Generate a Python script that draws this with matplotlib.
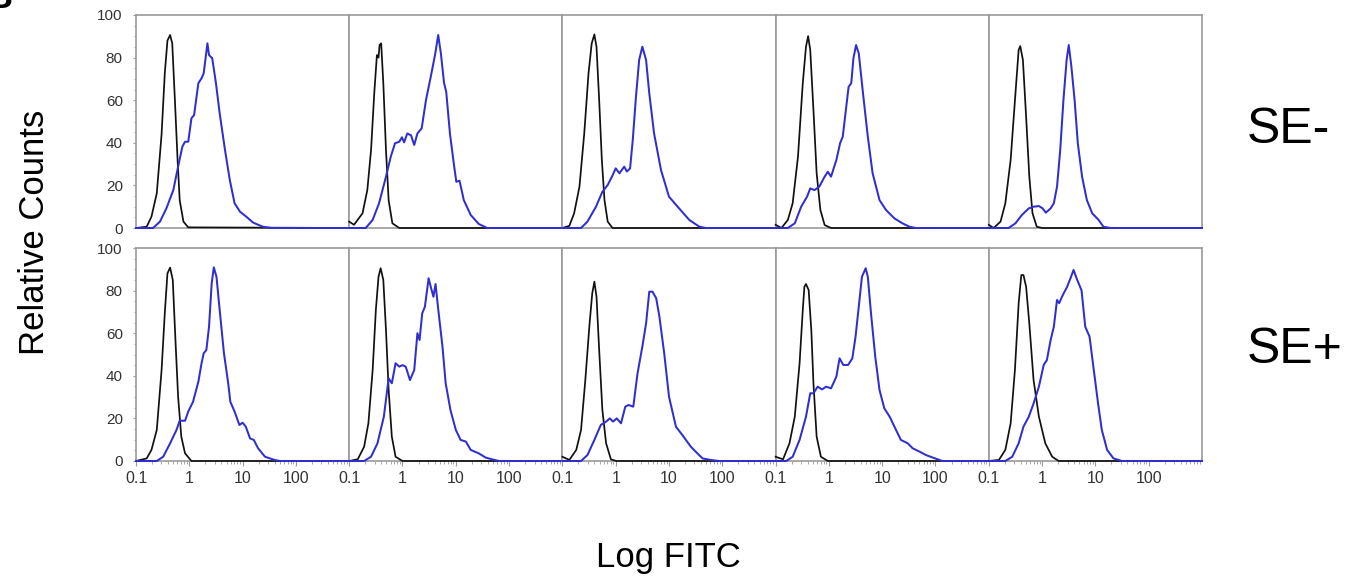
#!/usr/bin/env python3
"""Flow cytometry overlays: isotype control (black) vs FITC stain (blue),
five samples per row, SE- on top and SE+ below. x values are stored in
decades (log10 FITC), y values are relative counts."""

import matplotlib
matplotlib.use("Agg")
import matplotlib.pyplot as plt
import numpy as np
from matplotlib.ticker import FixedLocator, FixedFormatter, MultipleLocator, NullFormatter

plt.rcParams["font.family"] = ["Liberation Sans", "DejaVu Sans"]

ROW_LABELS = ["SE-", "SE+"]
X_TICKS = [0.1, 1, 10, 100]
X_TICK_LABELS = ["0.1", "1", "10", "100"]
Y_TICKS = [0, 20, 40, 60, 80, 100]

# SE- row, control (black)
SE_MINUS_CTRL_X = [
    [-1, -0.80, -0.71, -0.61, -0.52, -0.46, -0.41, -0.36, -0.32, -0.27, -0.22, -0.18, -0.11, -0.02, 3],
    [-1, -0.91, -0.75, -0.66, -0.59, -0.53, -0.48, -0.45, -0.43, -0.40, -0.36, -0.31, -0.26, -0.19, -0.06, 3],
    [-1, -0.87, -0.78, -0.68, -0.59, -0.51, -0.45, -0.40, -0.36, -0.31, -0.26, -0.21, -0.15, -0.06, 3],
    [-1, -0.89, -0.77, -0.68, -0.58, -0.49, -0.43, -0.39, -0.35, -0.29, -0.23, -0.16, -0.08, 0.04, 3],
    [-1, -0.91, -0.78, -0.69, -0.59, -0.50, -0.44, -0.41, -0.36, -0.30, -0.24, -0.18, -0.10, 0.00, 3],
]
SE_MINUS_CTRL_Y = [
    [0, 0.6, 5.3, 16.3, 44, 72.6, 88, 90.6, 86.7, 60, 32, 13, 3, 0.3, 0],
    [3, 1.5, 6.9, 17.8, 36.6, 63.2, 81.2, 80, 85.9, 86.7, 68, 36.6, 13, 2.2, 0, 0],
    [0, 1, 6.9, 19.4, 44.4, 72.6, 86.7, 90.9, 85, 60, 32, 13, 3, 0, 0],
    [1.5, 0, 3.8, 11.6, 33.5, 68, 85.1, 90.1, 83.6, 55.4, 25.7, 8.5, 1.4, 0, 0],
    [1.5, 0, 3, 11.6, 32, 63.2, 83.6, 85.4, 78.9, 52.3, 24.1, 6.9, 0.6, 0, 0],
]

# SE- row, FITC (blue)
SE_MINUS_FITC_X = [
    [-1, -0.68, -0.55, -0.43, -0.30, -0.21, -0.13, -0.08, -0.02, 0.04, 0.09, 0.17, 0.23, 0.27,
     0.34, 0.37, 0.43, 0.50, 0.57, 0.67, 0.76, 0.85, 0.95, 1.07, 1.20, 1.38, 1.54, 3],
    [-1, -0.69, -0.56, -0.44, -0.31, -0.22, -0.14, -0.06, -0.01, 0.03, 0.09, 0.16, 0.22, 0.28,
     0.36, 0.44, 0.53, 0.61, 0.67, 0.72, 0.78, 0.82, 0.89, 0.97, 1.01, 1.07, 1.15, 1.28, 1.43, 1.59, 3],
    [-1, -0.65, -0.53, -0.37, -0.25, -0.15, -0.07, 0.00, 0.07, 0.16, 0.21, 0.27, 0.32, 0.38,
     0.44, 0.50, 0.57, 0.63, 0.72, 0.85, 1.00, 1.19, 1.38, 1.57, 1.69, 3],
    [-1, -0.77, -0.64, -0.52, -0.41, -0.35, -0.27, -0.18, -0.08, -0.02, 0.04, 0.14, 0.21, 0.26,
     0.34, 0.37, 0.42, 0.46, 0.51, 0.56, 0.64, 0.73, 0.82, 0.95, 1.07, 1.23, 1.38, 1.51, 1.63, 3],
    [-1, -0.63, -0.50, -0.38, -0.25, -0.16, -0.06, 0.01, 0.07, 0.16, 0.22, 0.28, 0.34, 0.40,
     0.46, 0.50, 0.55, 0.61, 0.67, 0.75, 0.84, 0.94, 1.06, 1.15, 1.28, 3],
]
SE_MINUS_FITC_Y = [
    [0, 0, 3, 9.2, 17.8, 28.8, 38.2, 40.5, 40.5, 51.5, 53, 68, 70.3, 72.6,
     86.7, 81.2, 79.7, 68, 53.8, 36.6, 22.5, 11.6, 7.7, 5.3, 2.5, 0.6, 0, 0],
    [0, 0, 3.8, 11.6, 24.1, 33.5, 39.8, 40.5, 42.6, 40.2, 44.4, 43.5, 39, 44.4,
     46.8, 60, 71, 81.2, 90.6, 82, 68, 64, 44.4, 28.8, 21.7, 22.2, 13.1, 6.1, 1.9, 0, 0],
    [0, 0, 3, 10, 17, 20.2, 24.1, 28, 25.7, 28.8, 26.5, 28, 41.3, 61.6,
     78.9, 85.1, 78.9, 63.2, 44.4, 27.2, 14.7, 9.2, 3.8, 0.6, 0, 0],
    [0, 0, 2.2, 10, 14.7, 18.6, 17.8, 19.4, 24.1, 26.4, 24.1, 31.9, 39.8, 42.9,
     60, 66.3, 68, 79.7, 85.9, 82, 63.2, 42.9, 25.7, 13.1, 8.5, 4.5, 2.2, 0.6, 0, 0],
    [0, 0, 2.2, 6.1, 9.2, 10, 10.3, 9.2, 7.2, 9.2, 11.6, 19.4, 36.6, 60,
     78.9, 85.9, 75.7, 60, 39.8, 24.1, 13.1, 6.9, 3.8, 0.6, 0, 0],
]

# SE+ row, control (black)
SE_PLUS_CTRL_X = [
    [-1, -0.80, -0.71, -0.61, -0.52, -0.46, -0.41, -0.36, -0.31, -0.26, -0.21, -0.15, -0.08, 0.04, 3],
    [-1, -0.84, -0.72, -0.64, -0.56, -0.50, -0.45, -0.41, -0.36, -0.31, -0.26, -0.20, -0.13, 0.00, 3],
    [-1, -0.87, -0.74, -0.65, -0.57, -0.49, -0.44, -0.40, -0.36, -0.31, -0.25, -0.18, -0.09, 0.01, 3],
    [-1, -0.86, -0.74, -0.64, -0.55, -0.49, -0.46, -0.43, -0.38, -0.33, -0.29, -0.23, -0.15, -0.02, 3],
    [-1, -0.81, -0.69, -0.59, -0.51, -0.44, -0.39, -0.35, -0.30, -0.24, -0.16, -0.06, 0.06, 0.19, 0.31, 3],
]
SE_PLUS_CTRL_Y = [
    [0, 1.2, 5.2, 14.6, 42.7, 69.3, 88.1, 90.8, 85, 56.8, 30.2, 11.4, 3.6, 0, 0],
    [0, 0.8, 6.7, 17.7, 42.7, 70.9, 86.5, 90.5, 85, 61.5, 33.3, 11.4, 2, 0, 0],
    [2, 0.5, 5.2, 14.6, 38, 64.6, 78.7, 84.2, 77.1, 52.1, 23.9, 8.3, 0.8, 0, 0],
    [2, 0.8, 8.3, 20.8, 45.9, 70.9, 81.8, 83.1, 80.3, 61.5, 36.5, 11.4, 2, 0, 0],
    [0, 0.5, 5.2, 17.7, 42.7, 74, 87.3, 87.3, 81.8, 64.6, 38, 20.8, 8.3, 2, 0, 0],
]

# SE+ row, FITC (blue)
SE_PLUS_FITC_X = [
    [-1, -0.61, -0.49, -0.36, -0.24, -0.18, -0.08, -0.02, 0.07, 0.17, 0.23, 0.27, 0.32, 0.37, 0.42,
     0.46, 0.51, 0.57, 0.65, 0.73, 0.77, 0.85, 0.94, 1.00, 1.06, 1.14, 1.21, 1.29, 1.42, 1.60, 1.70, 3],
    [-1, -0.72, -0.59, -0.47, -0.35, -0.26, -0.20, -0.13, -0.06, 0.00, 0.06, 0.14, 0.22, 0.28, 0.32,
     0.37, 0.42, 0.49, 0.53, 0.58, 0.62, 0.67, 0.75, 0.81, 0.90, 1.00, 1.09, 1.19, 1.28, 1.43, 1.56,
     1.68, 1.81, 3],
    [-1, -0.65, -0.53, -0.40, -0.28, -0.18, -0.11, -0.05, 0.02, 0.10, 0.18, 0.24, 0.33, 0.41, 0.50,
     0.57, 0.63, 0.69, 0.76, 0.82, 0.91, 1.00, 1.13, 1.25, 1.41, 1.50, 1.63, 1.78, 1.94, 3],
    [-1, -0.80, -0.68, -0.55, -0.43, -0.35, -0.29, -0.21, -0.13, -0.05, 0.04, 0.14, 0.20, 0.27, 0.36,
     0.44, 0.50, 0.56, 0.62, 0.69, 0.73, 0.79, 0.87, 0.95, 1.04, 1.14, 1.23, 1.35, 1.48, 1.57, 1.70,
     1.82, 1.95, 2.13, 3],
    [-1, -0.69, -0.56, -0.44, -0.35, -0.25, -0.16, -0.06, 0.03, 0.09, 0.16, 0.22, 0.28, 0.32, 0.39,
     0.47, 0.53, 0.59, 0.65, 0.74, 0.81, 0.89, 0.97, 1.05, 1.12, 1.22, 1.34, 1.50, 3],
]
SE_PLUS_FITC_Y = [
    [0, 0, 2, 8.3, 14.6, 18.9, 18.9, 23.2, 27.8, 37.2, 45.9, 50.6, 52.1, 63, 83.4,
     90.9, 86.5, 70.9, 50.6, 36.5, 27.8, 23.2, 16.9, 18, 16.1, 10.6, 9.9, 6, 2, 0.5, 0, 0],
    [0, 0, 2, 8.3, 20.8, 38.8, 36.5, 45.9, 44.3, 45, 44.3, 38, 42.7, 60, 56.8,
     69.3, 72.4, 85.8, 81.8, 77.1, 83.1, 71.3, 53.7, 36.5, 23.9, 14.6, 9.9, 9.1, 5.2, 3.6, 1.6,
     0.8, 0, 0],
    [0, 0, 2.8, 9.9, 16.9, 18.5, 20, 18.5, 20, 17.7, 25.5, 26.3, 25.5, 41.2, 53.7,
     64.6, 79.5, 79.5, 76.4, 67.8, 50.6, 30.2, 16.1, 12.2, 6.7, 4.4, 1.2, 0.5, 0, 0],
    [0, 0, 2, 9.9, 20.8, 31.8, 31.8, 34.9, 33.6, 34.9, 34.1, 39.6, 48.2, 45.1, 45.1,
     48.2, 58.4, 72.4, 86.5, 90.5, 86.5, 69.3, 48.9, 33.3, 24.7, 20.8, 16.1, 9.9, 8.3, 6, 4.4,
     2.8, 1.6, 0, 0],
    [0, 0, 2, 8.3, 16.1, 20.8, 27, 34.9, 45.1, 47.4, 56.8, 63, 75.6, 74.1, 78,
     81.8, 85.6, 89.7, 85.6, 80.1, 63, 58.4, 42.7, 27, 14.6, 5.2, 1.2, 0, 0],
]

ROWS = [
    (SE_MINUS_CTRL_X, SE_MINUS_CTRL_Y, SE_MINUS_FITC_X, SE_MINUS_FITC_Y),
    (SE_PLUS_CTRL_X, SE_PLUS_CTRL_Y, SE_PLUS_FITC_X, SE_PLUS_FITC_Y),
]

CTRL_COLOR = "#111111"
FITC_COLOR = "#2f2fd0"
FRAME_COLOR = "#9a9a9a"
TICK_TEXT = "#333333"

W, H = 1363, 576
fig = plt.figure(figsize=(W / 100, H / 100), dpi=100)

panel_left = 136 / W
panel_w = 213.2 / W
panel_h = 213 / H
row_bottoms = [(H - 228) / H, (H - 461) / H]

minor_x = [k * 10.0 ** n for n in range(-1, 3) for k in range(2, 10)]

for r, (cx, cy, fx, fy) in enumerate(ROWS):
    for c in range(5):
        ax = fig.add_axes([panel_left + c * panel_w, row_bottoms[r], panel_w, panel_h])
        ax.plot(10 ** np.array(cx[c]), cy[c], color=CTRL_COLOR, lw=1.25, clip_on=False, zorder=3,
                solid_joinstyle="round")
        ax.plot(10 ** np.array(fx[c]), fy[c], color=FITC_COLOR, lw=1.45, clip_on=False, zorder=4,
                solid_joinstyle="round")
        ax.set_xscale("log")
        ax.set_xlim(0.1, 1000)
        ax.set_ylim(0, 100)
        for s in ax.spines.values():
            s.set_color(FRAME_COLOR)
            s.set_linewidth(1.2)

        if r == 1:
            ax.xaxis.set_major_locator(FixedLocator(X_TICKS))
            ax.xaxis.set_major_formatter(FixedFormatter(X_TICK_LABELS))
            ax.xaxis.set_minor_locator(FixedLocator(minor_x))
            ax.xaxis.set_minor_formatter(NullFormatter())
            ax.tick_params(axis="x", which="major", length=3.5, width=0.8, color=FRAME_COLOR,
                           pad=4, labelsize=11.5, labelcolor=TICK_TEXT)
            ax.tick_params(axis="x", which="minor", length=2, width=0.6, color=FRAME_COLOR)
        else:
            ax.tick_params(axis="x", which="both", bottom=False, labelbottom=False)

        if c == 0:
            ax.yaxis.set_major_locator(FixedLocator(Y_TICKS))
            ax.yaxis.set_minor_locator(MultipleLocator(5))
            ax.tick_params(axis="y", which="major", length=2.5, width=0.8, color=FRAME_COLOR,
                           pad=7, labelsize=11, labelcolor=TICK_TEXT)
            ax.tick_params(axis="y", which="minor", length=1.5, width=0.6, color=FRAME_COLOR)
        else:
            ax.tick_params(axis="y", which="both", left=False, labelleft=False)

fig.text(35 / W, (H - 232) / H, "Relative Counts", rotation=90, ha="center", va="center", fontsize=25)
fig.text(668 / W, (H - 566.7) / H, "Log FITC", ha="center", va="baseline", fontsize=25)
fig.text(1247 / W, (H - 143.3) / H, ROW_LABELS[0], ha="left", va="baseline", fontsize=36)
fig.text(1247 / W, (H - 363.3) / H, ROW_LABELS[1], ha="left", va="baseline", fontsize=36)
# panel letter, cut off by the top edge in the source figure
fig.text(13 / W, (H - 8) / H, "B", ha="right", va="baseline", fontsize=26, weight="bold")

fig.savefig("out.png", dpi=100)
